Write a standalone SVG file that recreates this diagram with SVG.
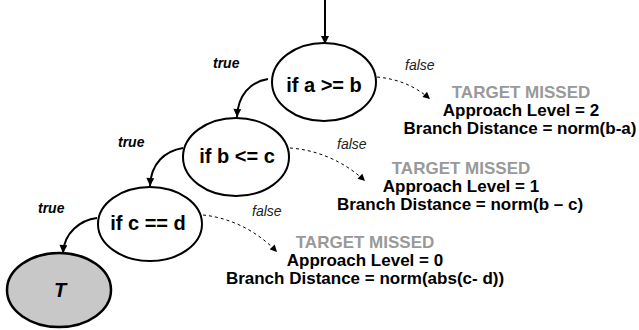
<svg xmlns="http://www.w3.org/2000/svg" width="639" height="330" viewBox="0 0 639 330">
<defs>
<marker id="ah" viewBox="0 0 10 10" refX="10" refY="5" markerWidth="9" markerHeight="8" markerUnits="userSpaceOnUse" orient="auto"><path d="M0,0 L10,5 L0,10 z" fill="#000"/></marker>
<marker id="ahs" viewBox="0 0 10 10" refX="10" refY="5" markerWidth="8" markerHeight="7" markerUnits="userSpaceOnUse" orient="auto"><path d="M0,0 L10,5 L0,10 z" fill="#000"/></marker>
</defs>
<style>
.node{fill:#fff;stroke:#000;stroke-width:2}
.tgt{fill:#c8c8c8;stroke:#000;stroke-width:2.5}
.nt{font-family:"Liberation Sans",Arial,sans-serif;font-weight:bold;font-size:20px;text-anchor:middle;fill:#000}
.solid{fill:none;stroke:#000;stroke-width:2;marker-end:url(#ah)}
.dash{fill:none;stroke:#000;stroke-width:1;stroke-dasharray:3,3;marker-end:url(#ahs)}
.tl{font-family:"Liberation Sans",Arial,sans-serif;font-weight:bold;font-style:italic;font-size:14px;fill:#000}
.fl{font-family:"Liberation Sans",Arial,sans-serif;font-style:italic;font-size:14px;fill:#222}
.info{font-family:"Liberation Sans",Arial,sans-serif;font-weight:bold;font-size:17px;text-anchor:middle;fill:#000}
.miss{fill:#999}
</style>
<g id="connectors">
<path class="solid" d="M325,0 L325,44"/>
<path class="solid" d="M268,79 C250,82 238,95 237,117"/>
<path class="dash" d="M377,77 C398,79 415,86 430,99"/>
<path class="solid" d="M183,148 C165,151 151,163 150,186"/>
<path class="dash" d="M290,148 C318,150 345,162 365,181"/>
<path class="solid" d="M97,218 C80,220 64,233 63,253"/>
<path class="dash" d="M203,215 C232,218 258,232 277,252"/>
</g>
<g id="labels">
<text class="tl" x="213" y="68">true</text>
<text class="fl" x="405" y="70">false</text>
<text class="tl" x="118" y="147">true</text>
<text class="fl" x="337" y="149">false</text>
<text class="tl" x="38" y="213">true</text>
<text class="fl" x="252" y="216">false</text>
</g>
<g id="n1">
<ellipse class="node" cx="324" cy="82" rx="52" ry="39"/>
<text class="nt" x="324" y="92">if a &gt;= b</text>
</g>
<g id="n2">
<ellipse class="node" cx="236" cy="157" rx="53" ry="39"/>
<text class="nt" x="237" y="163">if b &lt;= c</text>
</g>
<g id="n3">
<ellipse class="node" cx="150" cy="224" rx="52" ry="37"/>
<text class="nt" x="148" y="230">if c == d</text>
</g>
<g id="nT">
<ellipse class="tgt" cx="59" cy="290" rx="52" ry="37"/>
<text class="nt" x="60" y="297" font-style="italic">T</text>
</g>
<g id="info1">
<text class="info miss" x="521" y="98">TARGET MISSED</text>
<text class="info" x="521" y="116">Approach Level = 2</text>
<text class="info" x="520" y="134">Branch Distance = norm(b-a)</text>
</g>
<g id="info2">
<text class="info miss" x="461" y="174">TARGET MISSED</text>
<text class="info" x="461" y="192">Approach Level = 1</text>
<text class="info" x="460" y="210">Branch Distance = norm(b – c)</text>
</g>
<g id="info3">
<text class="info miss" x="365" y="248">TARGET MISSED</text>
<text class="info" x="365" y="266">Approach Level = 0</text>
<text class="info" x="365" y="284">Branch Distance = norm(abs(c- d))</text>
</g>
</svg>
